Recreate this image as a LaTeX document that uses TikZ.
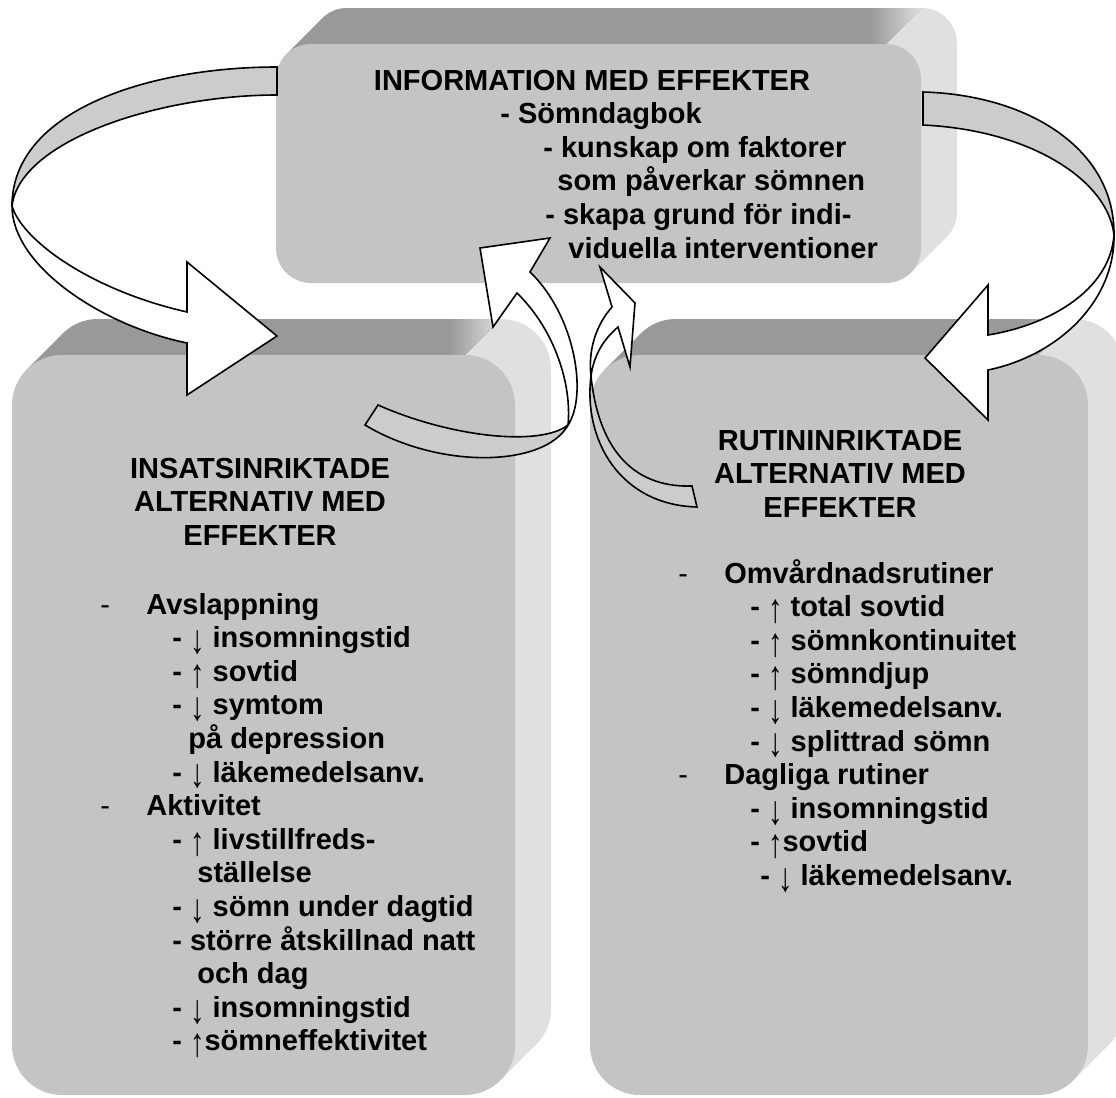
\documentclass[tikz,border=0pt]{standalone}
\usepackage{graphicx}
\usepackage{fontspec}
\setmainfont{Liberation Sans}

\definecolor{facegray}{HTML}{C4C4C4}
\definecolor{topgray}{HTML}{999999}
\definecolor{sidegray}{HTML}{E0E0E0}
\definecolor{bandgray}{HTML}{CCCCCC}

\def\exdepth{36}
\newcommand{\arrup}{\smash{\raisebox{-0.2em}{\scalebox{1}[1.4]{\mdseries ↑}}}}
\newcommand{\arrdn}{\smash{\raisebox{-0.2em}{\scalebox{1}[1.4]{\mdseries ↓}}}}
\newcommand{\firstdash}{\makebox[23pt][l]{\mdseries -}}

% extruded rounded box: x1, y1, x2, y2, radius (all in px)
\newcommand{\slab}[5]{%
  \pgfmathsetmacro{\rpt}{0.5*#5}
  \pgfmathsetmacro{\tq}{#5*0.2929}
  \fill[sidegray, rounded corners=\rpt pt] (#1+\exdepth,#2-\exdepth) rectangle (#3+\exdepth,#4-\exdepth);
  \fill[sidegray] (#1+\tq,#2+\tq) -- ++(\exdepth,-\exdepth) -- (#3-\tq+\exdepth,#4-\tq-\exdepth) -- (#3-\tq,#4-\tq) -- cycle;
  \begin{scope}
    \clip (#1-5,#2+#5) -- (#1+#5,#2+#5) -- (#1+#5,#2) -- (#3-#5,#2) -- (#3-#5+\exdepth,#2-\exdepth) -- (#3-#5+\exdepth,#2-\exdepth-5) -- (#1-5,#2-\exdepth-5) -- cycle;
    \fill[topgray, rounded corners=\rpt pt] (#1+\exdepth,#2-\exdepth) rectangle (#3+\exdepth,#4-\exdepth);
    \fill[topgray] (#1+\tq,#2+\tq) -- ++(\exdepth,-\exdepth) -- (#3-\tq+\exdepth,#4-\tq-\exdepth) -- (#3-\tq,#4-\tq) -- cycle;
    \shade[left color=topgray, right color=sidegray] (#3-#5-15,#2-\exdepth) rectangle (#3-#5+\exdepth,#2);
  \end{scope}
  \fill[facegray, rounded corners=\rpt pt] (#1,#2) rectangle (#3,#4);
}

\tikzset{
  ribbon/.style={draw=black, line width=0.8pt, line join=miter},
  ribbonback/.style={ribbon, fill=bandgray},
  ribbonfront/.style={ribbon, fill=white},
  boxline/.style={font=\fontsize{14.5}{16.8}\selectfont\bfseries, inner sep=0pt, anchor=base west},
  boxtitle/.style={boxline, anchor=base},
}

\begin{document}
\begin{tikzpicture}[x=0.5pt, y=-0.5pt]
    \useasboundingbox (0,0) rectangle (1116,1098);
    \clip (0,0) rectangle (1116,1098);

    % Boxes
    \slab{276}{44}{921}{283}{35}
    \slab{12}{355}{515}{1095}{50}
    \slab{590}{355}{1088}{1095}{50}

    % Left ribbon arrow
    \filldraw[ribbonback] (277,67) .. controls (150,67) and (12,110) .. (12,206)
        .. controls (20,140) and (160,95) .. (277,95) -- cycle;
    \filldraw[ribbonfront] (12,206) .. controls (12,265) and (100,325) .. (187,343)
        -- (187,395) -- (277,336) -- (187,262) -- (187,312)
        .. controls (90,290) and (22,240) .. (12,206) -- cycle;

    % Right ribbon arrow
    \filldraw[ribbonback] (923,92) .. controls (1030,95) and (1115,150) .. (1114,235)
        .. controls (1108,180) and (1030,130) .. (923,125) -- cycle;
    \filldraw[ribbonfront] (1114,235) .. controls (1115,300) and (1060,355) .. (988,370)
        -- (988,420) -- (925,358) -- (988,285) -- (988,335)
        .. controls (1050,325) and (1110,290) .. (1114,235) -- cycle;

    % Small arrow from the left box
    \filldraw[ribbonback] (568,425) .. controls (540,447) and (450,437) .. (378,405)
        -- (365,425) .. controls (440,470) and (545,467) .. (568,425) -- cycle;
    \filldraw[ribbonfront] (568,425) .. controls (572,385) and (555,330) .. (517,293)
        -- (493,327) -- (480,248) -- (550,238) -- (530,272)
        .. controls (575,315) and (588,395) .. (568,425) -- cycle;

    % Small arrow from the right box
    \filldraw[ribbonback] (591,376) .. controls (583,440) and (620,505) .. (697,507)
        -- (692,486) .. controls (630,488) and (598,445) .. (591,376) -- cycle;
    \filldraw[ribbonfront] (591,376) .. controls (588,350) and (596,325) .. (612,307)
        -- (600,267) -- (635,303) -- (630,367) -- (618,327)
        .. controls (603,340) and (594,355) .. (591,376) -- cycle;

    % Top box text
    \node[boxtitle] (infotitle) at (592,90) {INFORMATION MED EFFEKTER};
    \foreach \x/\t [count=\i] in {500/{- Sömndagbok}, 543/{- kunskap om faktorer},
        557/{som påverkar sömnen}, 545/{- skapa grund för indi-},
        568/{viduella interventioner}}
        \node[boxline] (info\i) at (\x,90+33.6*\i) {\t};

    % Left box text
    \foreach \t [count=\i] in {INSATSINRIKTADE, ALTERNATIV MED, EFFEKTER}
        \node[boxtitle] (institle\i) at (260,444.4+33.6*\i) {\t};
    \foreach \x/\t [count=\i from 0] in {100/{\firstdash Avslappning},
        172/{- \arrdn{} insomningstid}, 172/{- \arrup{} sovtid},
        172/{- \arrdn{} symtom}, 188/{på depression},
        172/{- \arrdn{} läkemedelsanv.}, 100/{\firstdash Aktivitet},
        172/{- \arrup{} livstillfreds-}, 197/{ställelse},
        172/{- \arrdn{} sömn under dagtid}, 172/{- större åtskillnad natt},
        197/{och dag}, 172/{- \arrdn{} insomningstid},
        172/{- \arrup{}sömneffektivitet}}
        \node[boxline] (ins\i) at (\x,614+33.6*\i) {\t};

    % Right box text
    \foreach \t [count=\i] in {RUTININRIKTADE, ALTERNATIV MED, EFFEKTER}
        \node[boxtitle] (rutitle\i) at (840,416.4+33.6*\i) {\t};
    \foreach \x/\t [count=\i from 0] in {678/{\firstdash Omvårdnadsrutiner},
        750/{- \arrup{} total sovtid}, 750/{- \arrup{} sömnkontinuitet},
        750/{- \arrup{} sömndjup}, 750/{- \arrdn{} läkemedelsanv.},
        750/{- \arrdn{} splittrad sömn}, 678/{\firstdash Dagliga rutiner},
        750/{- \arrdn{} insomningstid}, 750/{- \arrup{}sovtid},
        760/{- \arrdn{} läkemedelsanv.}}
        \node[boxline] (ru\i) at (\x,583+33.6*\i) {\t};
\end{tikzpicture}
\end{document}
